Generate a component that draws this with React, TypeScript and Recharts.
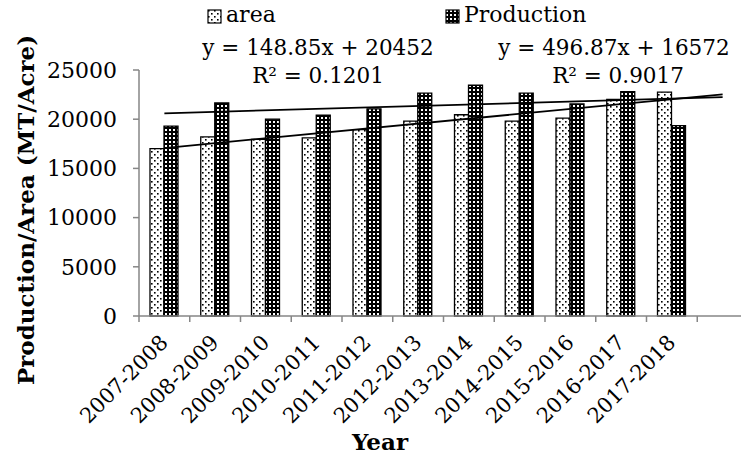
import React from 'react';
import { ComposedChart, Bar, Line, XAxis, YAxis, Legend } from 'recharts';

// marketing years (last slot is empty: trendlines forecast one period forward)
const years = [
  '2007-2008', '2008-2009', '2009-2010', '2010-2011', '2011-2012', '2012-2013',
  '2013-2014', '2014-2015', '2015-2016', '2016-2017', '2017-2018', ''
];
const areaValues = [17000, 18200, 17950, 18100, 18950, 19800, 20450, 19800, 20100, 22000, 22750, null];
const productionValues = [19300, 21650, 20000, 20400, 21050, 22650, 23450, 22650, 21550, 22800, 19350, null];
// trendline end points
const areaTrend = [17070, null, null, null, null, null, null, null, null, null, null, 22530];
const productionTrend = [20600, null, null, null, null, null, null, null, null, null, null, 22240];
const yTicks = [0, 5000, 10000, 15000, 20000, 25000];
const equations = ['y = 148.85x + 20452', 'y = 496.87x + 16572'];
const rSquared = ['R² = 0.1201', 'R² = 0.9017'];

const data = years.map((year, i) => ({
  year,
  area: areaValues[i],
  production: productionValues[i],
  areaTrend: areaTrend[i],
  productionTrend: productionTrend[i]
}));

const FONT = '"DejaVu Serif", serif';
const AXIS_GRAY = '#868686';
const LEGEND_H = 30;

const XTick = ({ x, y, payload }: any) => {
  const half = payload.offset || 25;
  const tx = x + 1;
  const ty = y + 24;
  return (
    <g>
      <line x1={x - half} y1={y} x2={x - half} y2={y + 6} stroke={AXIS_GRAY} strokeWidth={1.5} />
      {payload.value && (
        <text
          x={tx}
          y={ty}
          transform={`rotate(-45, ${tx}, ${ty})`}
          textAnchor="end"
          dominantBaseline="middle"
          fontFamily={FONT}
          fontSize={21}
          fill="#000"
        >
          {payload.value}
        </text>
      )}
    </g>
  );
};

const LegendBox = () => (
  <div style={{ position: 'relative', height: LEGEND_H, fontFamily: FONT, fontSize: 22, color: '#000', lineHeight: '26px' }}>
    <svg width={16} height={16} style={{ position: 'absolute', left: 207, top: 9 }}>
      <rect x={1} y={1} width={13} height={13} fill="url(#dots)" stroke="#000" strokeWidth={1.2} />
    </svg>
    <span style={{ position: 'absolute', left: 226, top: 2 }}>area</span>
    <svg width={16} height={16} style={{ position: 'absolute', left: 445, top: 9 }}>
      <rect x={1} y={1} width={13} height={13} fill="url(#checks)" stroke="#000" strokeWidth={1.2} />
    </svg>
    <span style={{ position: 'absolute', left: 464, top: 2 }}>Production</span>
  </div>
);

export default function App() {
  return (
    <div style={{ position: 'absolute', left: 0, top: 0, width: 741, height: 454, overflow: 'hidden', background: '#fff' }}>
      <svg width={0} height={0} style={{ position: 'absolute' }}>
        <defs>
          <pattern id="dots" width={6} height={6} patternUnits="userSpaceOnUse">
            <rect width={6} height={6} fill="#fff" />
            <rect x={1} y={1} width={1.6} height={1.6} fill="#000" />
            <rect x={4} y={4} width={1.6} height={1.6} fill="#000" />
          </pattern>
          <pattern id="checks" width={4} height={4} patternUnits="userSpaceOnUse">
            <rect width={4} height={4} fill="#000" />
            <rect x={1} y={1} width={2} height={2} fill="#fff" />
          </pattern>
        </defs>
      </svg>
      <ComposedChart
        width={748}
        height={454}
        data={data}
        margin={{ top: 70 - LEGEND_H, right: 0, bottom: 0, left: 0 }}
        barGap={0}
      >
        <XAxis
          dataKey="year"
          interval={0}
          height={138}
          tickSize={0}
          tickMargin={0}
          tickLine={false}
          axisLine={{ stroke: AXIS_GRAY, strokeWidth: 1.5 }}
          tick={<XTick />}
        />
        <YAxis
          width={139}
          domain={[0, 25000]}
          ticks={yTicks}
          interval={0}
          tickSize={6}
          tickMargin={16}
          axisLine={{ stroke: AXIS_GRAY, strokeWidth: 1.5 }}
          tickLine={{ stroke: AXIS_GRAY, strokeWidth: 1.5 }}
          tick={{ fill: '#000', fontFamily: FONT, fontSize: 22 }}
        />
        <Legend verticalAlign="top" align="left" content={<LegendBox />}
          wrapperStyle={{ top: 0, left: 0, width: 741, height: LEGEND_H }} />
        <Bar dataKey="area" name="area" barSize={14} fill="url(#dots)" stroke="#000" strokeWidth={1.3} isAnimationActive={false} />
        <Bar dataKey="production" name="Production" barSize={14} fill="url(#checks)" stroke="#000" strokeWidth={1.3} isAnimationActive={false} />
        <Line dataKey="areaTrend" type="linear" stroke="#000" strokeWidth={1.8} dot={false} activeDot={false}
          connectNulls legendType="none" isAnimationActive={false} />
        <Line dataKey="productionTrend" type="linear" stroke="#000" strokeWidth={1.8} dot={false} activeDot={false}
          connectNulls legendType="none" isAnimationActive={false} />
      </ComposedChart>
      <svg width={741} height={454} style={{ position: 'absolute', left: 0, top: 0, pointerEvents: 'none' }}>
        <g fontFamily={FONT} fontSize={21.5} fill="#000" textAnchor="middle">
          <text x={318} y={55}>{equations[0]}</text>
          <text x={318} y={83}>{rSquared[0]}</text>
          <text x={614} y={55}>{equations[1]}</text>
          <text x={618} y={83}>{rSquared[1]}</text>
        </g>
        <text
          x={25}
          y={210}
          transform="rotate(-90, 25, 210)"
          textAnchor="middle"
          dominantBaseline="central"
          fontFamily={FONT}
          fontSize={23}
          fontWeight="bold"
        >
          Production/Area (MT/Acre)
        </text>
        <text x={380} y={450} textAnchor="middle" fontFamily={FONT} fontSize={23} fontWeight="bold">
          Year
        </text>
      </svg>
    </div>
  );
}
